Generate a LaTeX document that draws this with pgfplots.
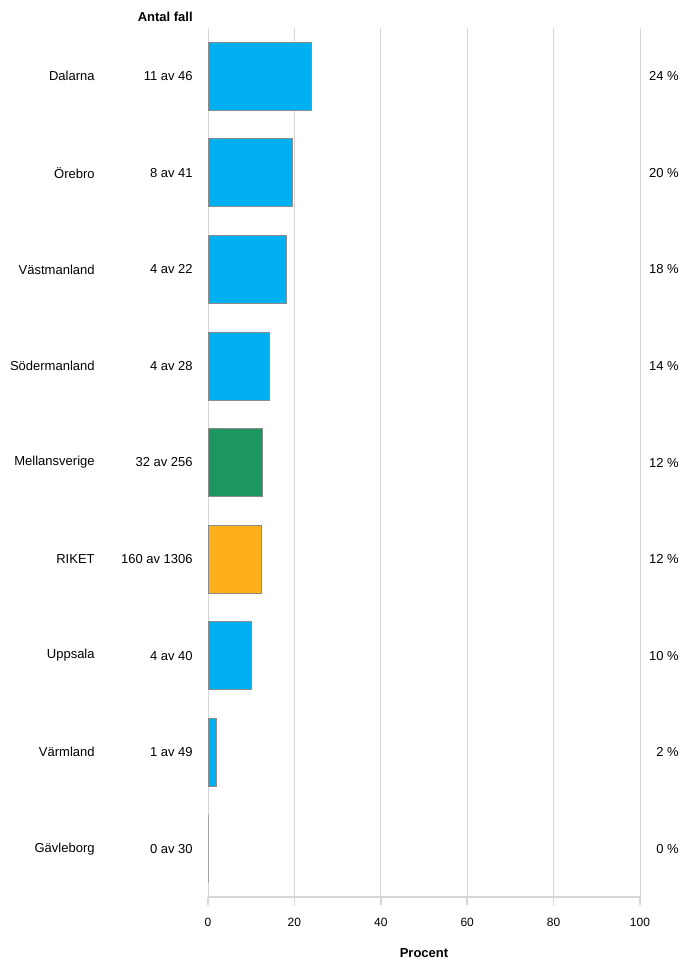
\documentclass[border=0pt]{standalone}
\usepackage{pgfplots}
\pgfplotsset{compat=1.18}
\usepackage{fontspec}
\setmainfont{Liberation Sans}
\definecolor{cyanbar}{RGB}{0,176,240}
\definecolor{greenbar}{RGB}{29,150,96}
\definecolor{orangebar}{RGB}{253,176,26}
\definecolor{gridgray}{RGB}{214,214,214}
\definecolor{edgegray}{RGB}{140,140,140}
\newcommand\lf{\fontsize{13bp}{15bp}\selectfont}
\begin{document}
\begin{tikzpicture}[lbl/.style={anchor=east, font=\lf, inner sep=0pt}]
\useasboundingbox (0,0) rectangle (681bp,959bp);
\begin{axis}[
  at={(208bp,62bp)}, anchor=south west,
  scale only axis, width=432bp, height=869bp,
  xmin=0, xmax=100, ymin=-0.5, ymax=8.5,
  xbar, bar width=68bp, bar shift=0pt,
  axis y line=none, axis x line*=bottom,
  x axis line style={draw=gridgray, line width=1.6bp},
  xtick={0,20,40,60,80,100},
  xmajorgrids, grid style={draw=gridgray, line width=0.8bp},
  major tick style={draw=gridgray, line width=1.6bp},
  tick align=outside, major tick length=8bp,
  xticklabel style={font=\fontsize{12bp}{14bp}\selectfont, yshift=-10bp},
  /pgf/number format/assume math mode=true,
  xlabel={\textbf{Procent}},
  xlabel style={font=\lf, yshift=-15bp},
  clip=false,
]
\addplot[fill=cyanbar, draw=edgegray, line width=0.8bp] coordinates {
  (23.91,8) (19.51,7) (18.18,6) (14.29,5) (10.0,2) (2.04,1) (0,0)};
\addplot[fill=greenbar, draw=edgegray, line width=0.8bp] coordinates {(12.5,4)};
\addplot[fill=orangebar, draw=edgegray, line width=0.8bp] coordinates {(12.25,3)};

\node[lbl] at (axis cs:-26.2,8) {Dalarna};
\node[lbl] at (axis cs:-26.2,7) {Örebro};
\node[lbl] at (axis cs:-26.2,6) {Västmanland};
\node[lbl] at (axis cs:-26.2,5) {Södermanland};
\node[lbl] at (axis cs:-26.2,4) {Mellansverige};
\node[lbl] at (axis cs:-26.2,3) {RIKET};
\node[lbl] at (axis cs:-26.2,2) {Uppsala};
\node[lbl] at (axis cs:-26.2,1) {Värmland};
\node[lbl] at (axis cs:-26.2,0) {Gävleborg};

\node[lbl] at (axis cs:-3.5,8) {11 av 46};
\node[lbl] at (axis cs:-3.5,7) {8 av 41};
\node[lbl] at (axis cs:-3.5,6) {4 av 22};
\node[lbl] at (axis cs:-3.5,5) {4 av 28};
\node[lbl] at (axis cs:-3.5,4) {32 av 256};
\node[lbl] at (axis cs:-3.5,3) {160 av 1306};
\node[lbl] at (axis cs:-3.5,2) {4 av 40};
\node[lbl] at (axis cs:-3.5,1) {1 av 49};
\node[lbl] at (axis cs:-3.5,0) {0 av 30};
\node[lbl] at (axis cs:-3.5,8.62) {\textbf{Antal fall}};

\node[lbl] at (axis cs:109,8) {24 \%};
\node[lbl] at (axis cs:109,7) {20 \%};
\node[lbl] at (axis cs:109,6) {18 \%};
\node[lbl] at (axis cs:109,5) {14 \%};
\node[lbl] at (axis cs:109,4) {12 \%};
\node[lbl] at (axis cs:109,3) {12 \%};
\node[lbl] at (axis cs:109,2) {10 \%};
\node[lbl] at (axis cs:109,1) {2 \%};
\node[lbl] at (axis cs:109,0) {0 \%};
\end{axis}
\end{tikzpicture}
\end{document}
